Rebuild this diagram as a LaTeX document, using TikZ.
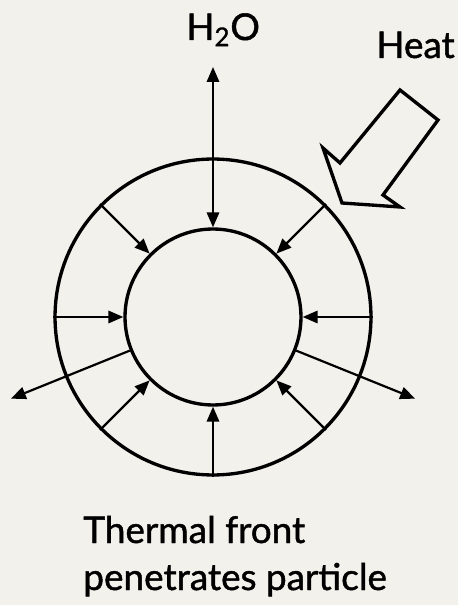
\documentclass[tikz,border=0pt]{standalone}
\usepackage{fontspec}
\setmainfont{Lato}
\newfontfamily\signfont{Lato}[FakeBold=1.2]
\usetikzlibrary{arrows.meta}
\definecolor{paper}{RGB}{243,241,235}

\begin{document}
\begin{tikzpicture}[x=0.02cm, y=0.02cm,
        ring/.style={circle, draw, line width=1.9pt, inner sep=0pt},
        flux/.style={line width=1.25pt, -{Triangle[length=8.5pt,width=7pt]}},
        lettering/.style={font=\signfont\fontsize{21}{25}\selectfont, inner sep=0pt}]
        % Paper and frame
        \fill[paper] (-213,-288) rectangle (245,317);
        \useasboundingbox (-213,-288) rectangle (245,317);

        % Particle: reacted shell and core
        \node[ring, minimum size=6.32cm] (shell) at (0,0) {};
        \node[ring, minimum size=3.52cm] (core) at (0,0) {};

        % Thermal front moves inwards
        \foreach \a in {0,45,...,315} {
            \draw[flux] (shell.\a) -- (core.\a);
        }

        % Water leaves the particle
        \foreach \a/\side in {202/west, 338/east} {
            \coordinate (vent-\side) at (\a:218);
            \draw[flux] (core.\a) -- (vent-\side);
        }
        \node[lettering, anchor=base west] (water) at (-27,277) {H\textsubscript{2}O};
        \coordinate (steam) at (0,250);
        \draw[flux] (shell.90) -- (steam);

        % Heat supply
        \node[lettering, anchor=base west] (heat) at (163,259) {Heat};
        \draw[line width=1.9pt, fill=paper, line join=miter]
            (187,227) -- (225,197) -- (170,122) -- (187,110)
            -- (129,114) -- (110,169) -- (127,154) -- cycle;

        % Caption
        \node[lettering, anchor=base west] (front) at (-130,-226) {Thermal front};
        \node[lettering, anchor=base west] (penetrate) at (-130,-273) {penetrates particle};
    \end{tikzpicture}
\end{document}
